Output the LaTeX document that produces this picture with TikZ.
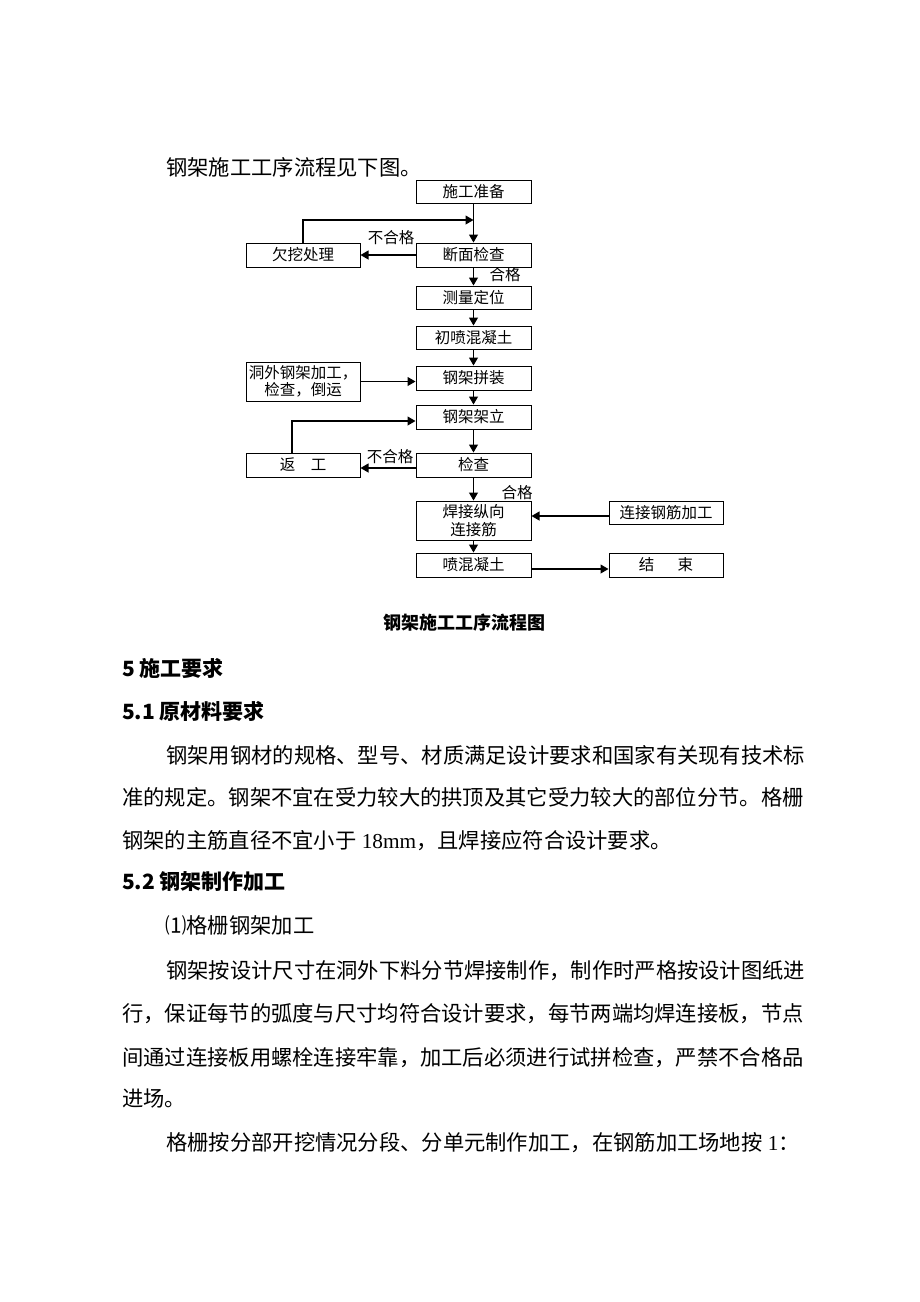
\documentclass[tikz,border=0pt]{standalone}
\usepackage{fontspec}
\setmainfont{Noto Sans CJK SC}
\newfontfamily\lat{Liberation Serif}
\usetikzlibrary{arrows.meta}
\begin{document}
\begin{tikzpicture}[x=1pt,y=-1pt,
  box/.style={draw, line width=1pt, inner sep=0pt, minimum width=115pt, minimum height=24pt,
    font=\fontsize{15.5}{17.5}\selectfont, align=center},
  arr/.style={-{Triangle[length=8pt,width=9pt]}, line width=1.1pt},
  lbl/.style={font=\fontsize{15.5}{17.5}\selectfont, inner sep=0pt},
  body/.style={anchor=base west, inner sep=0pt, font=\fontsize{21.3}{21.3}\selectfont},
  head/.style={anchor=base west, inner sep=0pt, font=\fontsize{21}{21}\selectfont\bfseries}]
\fill[white] (0,0) rectangle (920,1302);
\useasboundingbox (0,0) rectangle (920,1302);

\node[body] (t0) at (166,175) {钢架施工工序流程见下图。};

% flowchart boxes
\node[box, minimum height=23pt] (prep) at (473.5,191.5) {施工准备};
\node[box] (dm) at (473.5,255) {断面检查};
\node[box, minimum width=114pt] (qw) at (303,255) {欠挖处理};
\node[box, minimum height=23pt] (cl) at (473.5,297.5) {测量定位};
\node[box, minimum height=23pt] (cp) at (473.5,337.5) {初喷混凝土};
\node[box, minimum width=114pt, minimum height=39pt] (dw) at (303,381.5) {洞外钢架加工，\\检查，倒运};
\node[box] (pz) at (473.5,378) {钢架拼装};
\node[box] (jl) at (473.5,417) {钢架架立};
\node[box] (jc) at (473.5,465) {检查};
\node[box, minimum width=114pt] (fg) at (303,465) {返\hspace{1em}工};
\node[box, minimum height=39pt] (hj) at (473.5,520.5) {焊接纵向\\连接筋};
\node[box, minimum width=114pt, minimum height=23pt] (lj) at (666,513) {连接钢筋加工};
\node[box] (pc) at (473.5,565) {喷混凝土};
\node[box, minimum width=114pt] (js) at (666,565) {结\hspace{1.5em}束};

\coordinate (j1) at (473.5,220);

% labels
\node[lbl] (n1) at (391,238) {不合格};
\node[lbl] (h1) at (505,275) {合格};
\node[lbl] (n2) at (390,457) {不合格};
\node[lbl] (h2) at (517,493) {合格};

% connectors
\draw[arr] (prep.south) -- (dm.north);
\draw[arr] (qw.north) |- (j1);
\draw[arr] (dm.west) -- (qw.east);
\draw[arr] (dm.south) -- (cl.north);
\draw[arr] (cl.south) -- (cp.north);
\draw[arr] (cp.south) -- (pz.north);
\draw[arr] (dw.east) -- (dw.east -| pz.west);
\draw[arr] (pz.south) -- (jl.north);
\draw[arr] (jl.south) -- (jc.north);
\draw[arr] ([xshift=-11pt]fg.north) |- ([yshift=-4pt]jl.west);
\draw[arr] ([yshift=-3pt]jc.west) -- ([yshift=-3pt]fg.east);
\draw[arr] (jc.south) -- (hj.north);
\draw[arr] ([yshift=-3pt]lj.west) -- ([yshift=-3pt]lj.west -| hj.east);
\draw[arr] (hj.south) -- (pc.north);
\draw[arr] ([yshift=-4pt]pc.east) -- ([yshift=-4pt]js.west);

\node[inner sep=0pt, font=\fontsize{18}{18}\selectfont\bfseries] (cap) at (464,623) {钢架施工工序流程图};

% text body
\node[head] (s5) at (122,676) {5 施工要求};
\node[head] (s51) at (122,719) {5.1 原材料要求};
\node[body] (p1) at (166,763) {钢架用钢材的规格、型号、材质满足设计要求和国家有关现有技术标};
\node[body] (p2) at (122,805) {准的规定。钢架不宜在受力较大的拱顶及其它受力较大的部位分节。格栅};
\node[body] (p3) at (122,848) {钢架的主筋直径不宜小于{\lat\ 18mm}，且焊接应符合设计要求。};
\node[head] (s52) at (122,889) {5.2 钢架制作加工};
\node[body] (q0) at (165,933) {⑴格栅钢架加工};
\node[body] (q1) at (166,978) {钢架按设计尺寸在洞外下料分节焊接制作，制作时严格按设计图纸进};
\node[body] (q2) at (122,1021) {行，保证每节的弧度与尺寸均符合设计要求，每节两端均焊连接板，节点};
\node[body] (q3) at (122,1065) {间通过连接板用螺栓连接牢靠，加工后必须进行试拼检查，严禁不合格品};
\node[body] (q4) at (122,1106) {进场。};
\node[body] (q5) at (166,1150) {格栅按分部开挖情况分段、分单元制作加工，在钢筋加工场地按{\lat\ 1}：};
\end{tikzpicture}
\end{document}
